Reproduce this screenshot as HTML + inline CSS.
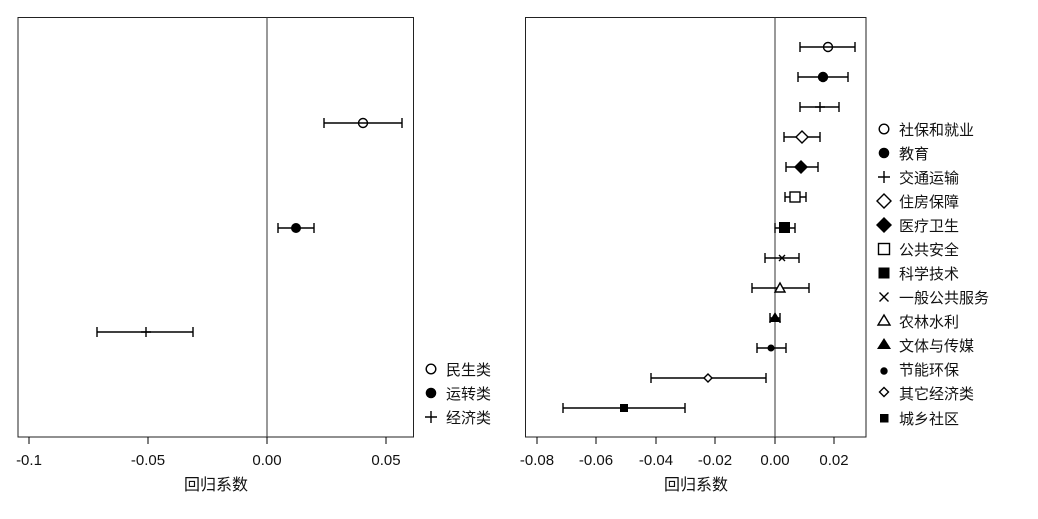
<!DOCTYPE html>
<html><head><meta charset="utf-8"><style>
html,body{margin:0;padding:0;background:#fff;}
svg{display:block;font-family:"Liberation Sans","Noto Sans CJK SC",sans-serif;}
</style></head><body>
<svg width="1038" height="519" viewBox="0 0 1038 519" xmlns="http://www.w3.org/2000/svg">
<g stroke="#000" stroke-width="1" fill="none">
<rect x="18" y="17.5" width="395.5" height="419.5" stroke="#222"/>
<line x1="267" y1="17" x2="267" y2="437" stroke="#333"/>
<line x1="29" y1="437" x2="29" y2="444"/><line x1="148" y1="437" x2="148" y2="444"/>
<line x1="267" y1="437" x2="267" y2="444"/><line x1="386" y1="437" x2="386" y2="444"/>
<rect x="525.5" y="17.5" width="340.5" height="419.5" stroke="#222"/>
<line x1="775" y1="17" x2="775" y2="437" stroke="#333"/>
<line x1="537" y1="437" x2="537" y2="444"/><line x1="596" y1="437" x2="596" y2="444"/>
<line x1="656" y1="437" x2="656" y2="444"/><line x1="715" y1="437" x2="715" y2="444"/>
<line x1="775" y1="437" x2="775" y2="444"/><line x1="834" y1="437" x2="834" y2="444"/>
</g>
<g stroke="#000" stroke-width="1.4" fill="none">
<path d="M324 123H402M324 118V128M402 118V128"/>
<path d="M278 228H314M278 223V233M314 223V233"/>
<path d="M97 332H193M97 327V337M193 327V337"/>
<circle cx="363" cy="123" r="4.5"/>
<path d="M141 332H151M146 327V337"/>
<path d="M800 47H855M800 42V52M855 42V52"/>
<path d="M798 77H848M798 72V82M848 72V82"/>
<path d="M800 107H839M800 102V112M839 102V112"/>
<path d="M784 137H820M784 132V142M820 132V142"/>
<path d="M786 167H818M786 162V172M818 162V172"/>
<path d="M785 197H806M785 192V202M806 192V202"/>
<path d="M775 228H795M775 223V233M795 223V233"/>
<path d="M765 258H799M765 253V263M799 253V263"/>
<path d="M752 288H809M752 283V293M809 283V293"/>
<path d="M770 318H780M770 313V323M780 313V323"/>
<path d="M757 348H786M757 343V353M786 343V353"/>
<path d="M651 378H766M651 373V383M766 373V383"/>
<path d="M563 408H685M563 403V413M685 403V413"/>
<circle cx="828" cy="47" r="4.5"/>
<path d="M815 107H825M820 102V112"/>
<path d="M802 131L808 137L802 143L796 137Z" fill="#fff"/>
<rect x="790" y="192" width="10" height="10" fill="#fff"/>
<path d="M779 255L785 261M785 255L779 261"/>
<path d="M780 283L785 292H775Z" fill="#fff"/>
<path d="M708 374L712 378L708 382L704 378Z" fill="#fff"/>
<circle cx="431" cy="369" r="4.8"/>
<path d="M425 417H437M431 411V423"/>
<circle cx="884" cy="129" r="4.8"/>
<path d="M878 177H890M884 171V183"/>
<path d="M884 194L891 201L884 208L877 201Z"/>
<rect x="878.5" y="243.5" width="11" height="11"/>
<path d="M879.5 292.5L888.5 301.5M888.5 292.5L879.5 301.5"/>
<path d="M884 315L890 325H878Z"/>
<path d="M884 387.5L888.5 392L884 396.5L879.5 392Z"/>
</g>
<g fill="#000">
<circle cx="296" cy="228" r="5"/>
<circle cx="823" cy="77" r="5.2"/>
<path d="M801 160L808 167L801 174L794 167Z"/>
<rect x="779" y="222" width="11" height="11"/>
<path d="M775 312L781 322H769Z"/>
<circle cx="771" cy="348" r="3.5"/>
<rect x="620" y="404" width="8" height="8"/>
<circle cx="431" cy="393" r="5.3"/>
<circle cx="884" cy="153" r="5.3"/>
<path d="M884 217L892 225L884 233L876 225Z"/>
<rect x="878.5" y="267.5" width="11" height="11"/>
<path d="M884 338L891 349H877Z"/>
<circle cx="884" cy="371" r="3.7"/>
<rect x="880" y="414" width="8.5" height="8.5"/>
</g>
<g font-size="15" fill="#111">
<text x="29" y="465" text-anchor="middle">-0.1</text>
<text x="148" y="465" text-anchor="middle">-0.05</text>
<text x="267" y="465" text-anchor="middle">0.00</text>
<text x="386" y="465" text-anchor="middle">0.05</text>
<text x="537" y="465" text-anchor="middle">-0.08</text>
<text x="596" y="465" text-anchor="middle">-0.06</text>
<text x="656" y="465" text-anchor="middle">-0.04</text>
<text x="715" y="465" text-anchor="middle">-0.02</text>
<text x="775" y="465" text-anchor="middle">0.00</text>
<text x="834" y="465" text-anchor="middle">0.02</text>
<text x="216" y="490" text-anchor="middle" font-size="16">回归系数</text>
<text x="696" y="490" text-anchor="middle" font-size="16">回归系数</text>
<text x="446" y="375">民生类</text>
<text x="446" y="399">运转类</text>
<text x="446" y="423">经济类</text>
<text x="899" y="135">社保和就业</text>
<text x="899" y="159">教育</text>
<text x="899" y="183">交通运输</text>
<text x="899" y="207">住房保障</text>
<text x="899" y="231">医疗卫生</text>
<text x="899" y="255">公共安全</text>
<text x="899" y="279">科学技术</text>
<text x="899" y="303">一般公共服务</text>
<text x="899" y="327">农林水利</text>
<text x="899" y="351">文体与传媒</text>
<text x="899" y="375">节能环保</text>
<text x="899" y="399">其它经济类</text>
<text x="899" y="424">城乡社区</text>
</g>
</svg>
</body></html>
